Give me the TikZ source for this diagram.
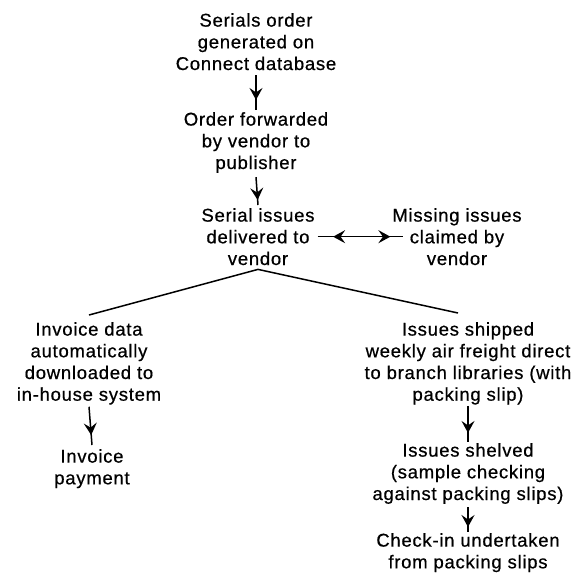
\documentclass[tikz,border=0pt]{standalone}
\usepackage{fontspec}
\setmainfont{Liberation Sans}[LetterSpace=4,FakeBold=0.6]
\usetikzlibrary{arrows.meta,decorations.markings}

\tikzset{flowtip/.tip={Stealth[length=12pt,width=13pt,inset=4.5pt]}}

\begin{document}
\begin{tikzpicture}[x=1pt,y=-1pt,
  box/.style={anchor=north,align=center,inner sep=0pt,
    font=\fontsize{18.5}{21.7}\selectfont},
  link/.style={line width=1.5pt},
  flow/.style={link,postaction={decorate},
    decoration={markings,mark=at position #1 with {\arrow{flowtip}}}},
  twoway/.style={link,postaction={decorate},
    decoration={markings,
      mark=at position 0.18 with {\arrowreversed{flowtip}},
      mark=at position 0.85 with {\arrow{flowtip}}}}
]
\useasboundingbox (0,0) rectangle (574,582);

% process steps
\node[box] (n1) at (256,13)  {Serials order\\generated on\\Connect database};
\node[box] (n2) at (256,112) {Order forwarded\\by vendor to\\publisher};
\node[box] (n3) at (258,208) {Serial issues\\delivered to\\vendor};
\node[box] (n4) at (457,208) {Missing issues\\claimed by\\vendor};
\node[box] (n5) at (89,322)  {Invoice data\\automatically\\downloaded to\\in-house system};
\node[box] (n6) at (92,449)  {Invoice\\payment};
\node[box] (n7) at (468,322) {Issues shipped\\weekly air freight direct\\to branch libraries (with\\packing slip)};
\node[box] (n8) at (468,443) {Issues shelved\\(sample checking\\against packing slips)};
\node[box] (n9) at (468,533) {Check-in undertaken\\from packing slips};

% connectors
\draw[flow=0.71] ([yshift=-5pt]n1.south) -- ([yshift=2pt]n2.north);
\draw[flow=0.82] ([yshift=-4pt]n2.south) -- ([yshift=3pt]n3.north);
\draw[twoway] ([xshift=3pt]n3.east) -- ([xshift=11pt]n4.west);
\draw[link] ([yshift=7pt]n5.north) -- ([yshift=-4pt]n3.south)
  -- ([xshift=-10pt,yshift=9pt]n7.north);
\draw[flow=0.74] ([yshift=-2pt]n5.south) -- ([yshift=4pt]n6.north);
\draw[flow=0.75] ([yshift=-1pt]n7.south) -- ([yshift=1pt]n8.north);
\draw[flow=0.8]  ([yshift=-3pt]n8.south) -- ([yshift=1pt]n9.north);
\end{tikzpicture}
\end{document}
